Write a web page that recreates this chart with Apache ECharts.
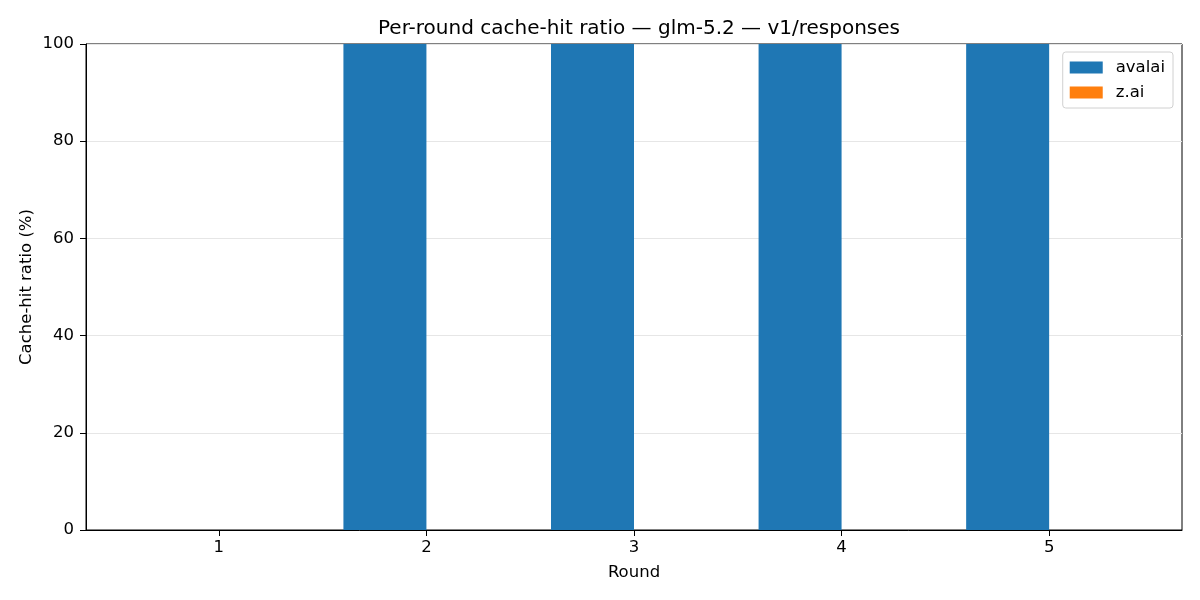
<!DOCTYPE html>
<html>
<head>
<meta charset="utf-8">
<script src="https://cdn.jsdelivr.net/npm/echarts@6/dist/echarts.min.js"></script>
<style>
  html, body { margin: 0; padding: 0; background: #fff; }
  #chart { width: 1200px; height: 600px; }
</style>
</head>
<body>
<div id="chart"></div>
<script>
// 数据
var rounds = [1, 2, 3, 4, 5];
var avalai = [0, 100, 100, 100, 100];
var zai = [0, 0, 0, 0, 0];
var yTicks = [0, 20, 40, 60, 80, 100];

var font = 'DejaVu Sans';
var fs = 16.5;
var chart = echarts.init(document.getElementById('chart'));

function pairs(vals) {
    return rounds.map(function(r, i) { return [r, vals[i]]; });
}

chart.setOption({
    animation: false,
    textStyle: { fontFamily: font },
    title: {
        text: 'Per-round cache-hit ratio — glm-5.2 — v1/responses',
        left: 634, top: 14, textAlign: 'center',
        textStyle: { fontFamily: font, fontSize: 20, fontWeight: 'normal', color: '#000' }
    },
    // 图例
    legend: {
        data: ['avalai', 'z.ai'],
        orient: 'vertical',
        right: 27, top: 52,
        padding: [7, 8, 7, 7],
        itemWidth: 33, itemHeight: 12, itemGap: 8,
        borderColor: '#d0d0d0', borderWidth: 1, borderRadius: 3,
        backgroundColor: '#fff',
        textStyle: { fontFamily: font, fontSize: fs, color: '#000', padding: [0, 0, 0, 8] },
        icon: 'rect'
    },
    grid: {
        left: 86, right: 18, top: 44, bottom: 70,
        show: true, borderColor: '#000', borderWidth: 1
    },
    xAxis: {
        type: 'value',
        min: 0.36, max: 5.64,
        name: 'Round', nameLocation: 'middle', nameGap: 34,
        nameMoveOverlap: false,
        nameTextStyle: { fontFamily: font, fontSize: fs, color: '#000' },
        axisLine: { show: true, lineStyle: { color: '#000' } },
        axisTick: { show: true, length: 6, customValues: rounds, lineStyle: { color: '#000' } },
        axisLabel: { customValues: rounds, fontFamily: font, fontSize: fs, color: '#000', margin: 9 },
        splitLine: { show: false }
    },
    yAxis: {
        type: 'value',
        min: 0, max: 100, interval: 20,
        name: 'Cache-hit ratio (%)', nameLocation: 'middle', nameGap: 51, nameRotate: 90,
        nameMoveOverlap: false,
        nameTextStyle: { fontFamily: font, fontSize: fs, color: '#000' },
        axisLine: { show: true, lineStyle: { color: '#000' } },
        axisTick: { show: true, length: 6, lineStyle: { color: '#000' } },
        axisLabel: { fontFamily: font, fontSize: fs, color: '#000', margin: 12 },
        splitLine: { show: true, lineStyle: { color: '#e6e6e6', width: 1 } }
    },
    series: [{
        name: 'avalai',
        type: 'bar',
        data: pairs(avalai),
        barWidth: 83,
        barGap: '0%',
        itemStyle: { color: '#1f77b4' }
    }, {
        name: 'z.ai',
        type: 'bar',
        data: pairs(zai),
        barWidth: 83,
        barGap: '0%',
        itemStyle: { color: '#ff7f0e' }
    }]
});
</script>
</body>
</html>
